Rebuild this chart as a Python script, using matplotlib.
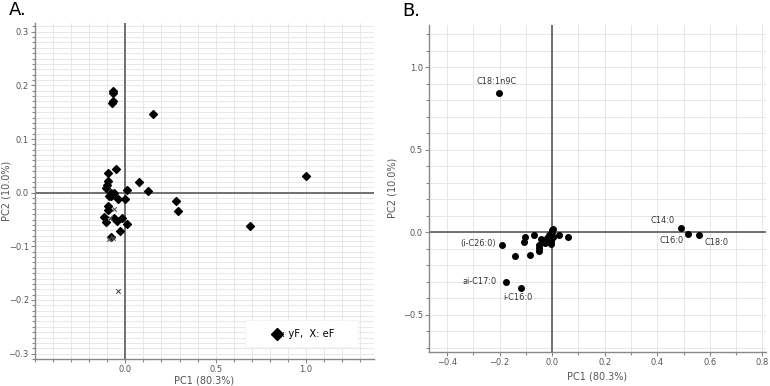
import numpy as np
import matplotlib.pyplot as plt
from matplotlib.patches import Rectangle
from matplotlib.ticker import MultipleLocator

# Panel A: scores (yF = diamonds, eF = crosses)
yf_pc1 = [-0.070, -0.068, -0.075, -0.066, 0.151, -0.051, -0.094, -0.097, -0.101, -0.107,
          0.074, 0.125, 0.009, 0.998, -0.079, -0.066, -0.090, -0.081, -0.061, -0.042,
          0.000, 0.281, 0.292, -0.094, -0.097, -0.118, -0.105, -0.064, -0.048, -0.017,
          0.009, -0.029, -0.079, 0.689, -0.072]
yf_pc2 = [0.189, 0.185, 0.167, 0.170, 0.147, 0.045, 0.037, 0.022, 0.014, 0.009,
          0.019, 0.004, 0.005, 0.032, 0.000, -0.002, -0.007, -0.007, -0.001, -0.011,
          -0.012, -0.016, -0.034, -0.025, -0.033, -0.045, -0.055, -0.048, -0.052, -0.048,
          -0.058, -0.071, -0.083, -0.063, -0.004]
ef_pc1 = [-0.061, -0.039, -0.066, -0.090, -0.085]
ef_pc2 = [-0.030, -0.184, -0.084, -0.086, -0.048]

# Panel B: loadings
ld_pc1 = [-0.2015, 0.490, 0.516, 0.560, -0.193, -0.175, -0.119, -0.143, -0.084, -0.104,
          -0.106, -0.068, -0.043, -0.049, -0.052, -0.049, -0.028, -0.019, -0.011, 0.000,
          0.002, -0.003, 0.000, -0.003, 0.027, 0.062, -0.006, 0.004]
ld_pc2 = [0.841, 0.028, -0.008, -0.018, -0.076, -0.298, -0.334, -0.145, -0.135, -0.030,
          -0.060, -0.016, -0.040, -0.076, -0.093, -0.111, -0.064, -0.032, -0.016, 0.014,
          0.018, -0.006, 0.005, -0.068, -0.018, -0.030, -0.050, -0.026]
lab_names = ["C18:1n9C", "C14:0", "C16:0", "C18:0", "(i-C26:0)", "ai-C17:0", "i-C16:0"]
lab_x = [-0.212, 0.422, 0.454, 0.626, -0.284, -0.278, -0.129]
lab_y = [0.913, 0.072, -0.052, -0.060, -0.068, -0.300, -0.394]

tick_col = "#555555"
spine_col = "#888888"

fig = plt.figure(figsize=(7.7, 3.86), dpi=100)
axA = fig.add_axes([0.0455, 0.070, 0.440, 0.870])
axB = fig.add_axes([0.5575, 0.089, 0.437, 0.846])


def style_axes(ax):
    for s in ["top", "right"]:
        ax.spines[s].set_visible(False)
    for s in ["left", "bottom"]:
        ax.spines[s].set_color(spine_col)
        ax.spines[s].set_linewidth(1.0)
    ax.tick_params(which="both", colors=spine_col, labelcolor=tick_col, labelsize=6,
                   direction="out", length=3, width=0.8, pad=1.5)
    ax.tick_params(which="minor", length=2)
    ax.set_axisbelow(True)
    ax.axhline(0, color="#666666", lw=1.3, zorder=1)
    ax.axvline(0, color="#666666", lw=1.3, zorder=1)


# ---- A ----
style_axes(axA)
axA.set_xlim(-0.5, 1.376)
axA.set_ylim(-0.31, 0.316)
axA.xaxis.set_major_locator(MultipleLocator(0.5))
axA.xaxis.set_minor_locator(MultipleLocator(0.1))
axA.yaxis.set_major_locator(MultipleLocator(0.1))
axA.yaxis.set_minor_locator(MultipleLocator(0.01))
axA.grid(which="both", color="#e4e4e4", lw=0.6)
axA.scatter(yf_pc1, yf_pc2, marker="D", s=16, color="black", zorder=3)
axA.scatter(ef_pc1, ef_pc2, marker="x", s=10, color="#555555", lw=0.8, zorder=3)
axA.set_xlabel("PC1 (80.3%)", color=tick_col, fontsize=7, labelpad=1)
axA.set_ylabel("PC2 (10.0%)", color=tick_col, fontsize=7)
axA.yaxis.set_label_coords(-0.070, 0.5)
axA.set_xticks([0.0, 0.5, 1.0])
axA.set_xticklabels(["0.0", "0.5", "1.0"])

# legend box drawn by hand
axA.add_patch(Rectangle((0.619, 0.036), 0.334, 0.08, transform=axA.transAxes,
                        facecolor="white", edgecolor="#f0f0f0", lw=0.5, zorder=4))
axA.plot([0.714], [0.075], marker="D", color="black", markersize=6,
         transform=axA.transAxes, zorder=5, clip_on=False)
axA.text(0.728, 0.075, ": yF,  X: eF", transform=axA.transAxes, fontsize=7.2,
         va="center", ha="left", zorder=5)
fig.text(0.012, 0.975, "A.", fontsize=13, va="center", ha="left")

# ---- B ----
style_axes(axB)
axB.set_xlim(-0.468, 0.813)
axB.set_ylim(-0.722, 1.254)
axB.xaxis.set_major_locator(MultipleLocator(0.2))
axB.xaxis.set_minor_locator(MultipleLocator(0.1))
axB.yaxis.set_major_locator(MultipleLocator(0.5))
axB.yaxis.set_minor_locator(MultipleLocator(0.1))
axB.grid(which="both", color="#e6e6e6", lw=0.7)
axB.scatter(ld_pc1, ld_pc2, marker="o", s=16, color="black", zorder=3)
for name, x, y in zip(lab_names, lab_x, lab_y):
    axB.text(x, y, name, fontsize=5.9, ha="center", va="center", color="#333333")
axB.set_xlabel("PC1 (80.3%)", color=tick_col, fontsize=7, labelpad=3)
axB.set_ylabel("PC2 (10.0%)", color=tick_col, fontsize=7, labelpad=4)
fig.text(0.522, 0.972, "B.", fontsize=13, va="center", ha="left")

fig.savefig("out.png", dpi=100)
